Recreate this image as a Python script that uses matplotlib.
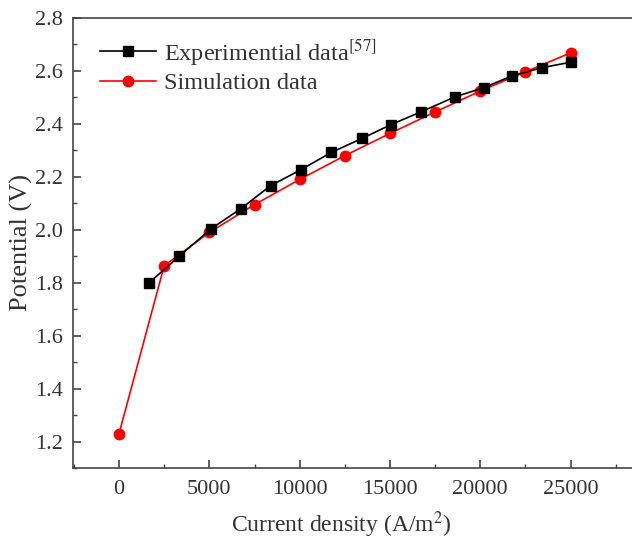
import matplotlib
matplotlib.use("Agg")
import matplotlib.pyplot as plt
from matplotlib.ticker import MultipleLocator

# experimental data [57]
exp_current = [1667, 3333, 5100, 6750, 8400, 10050, 11750, 13450, 15050,
               16700, 18600, 20200, 21750, 23400, 25000]
exp_potential = [1.800, 1.900, 2.004, 2.080, 2.167, 2.226, 2.292, 2.345, 2.397,
                 2.445, 2.502, 2.537, 2.581, 2.612, 2.633]

# simulation data
sim_current = [0, 2500, 5000, 7500, 10000, 12500, 15000, 17500, 20000, 22500, 25000]
sim_potential = [1.230, 1.864, 1.990, 2.095, 2.190, 2.280, 2.364, 2.445, 2.524,
                 2.597, 2.668]

plt.rcParams["font.family"] = ["Liberation Serif", "DejaVu Serif"]
plt.rcParams["mathtext.fontset"] = "stix"

fig = plt.figure(figsize=(6.32, 5.45), dpi=100)
ax = fig.add_axes([73 / 632, 77 / 545, 1 - 73 / 632, 450 / 545])

ax.plot(exp_current, exp_potential, color="black", marker="s", markersize=7,
        linewidth=1.2, label=r"Experimential data$^{[57]}$", zorder=3)
ax.plot(sim_current, sim_potential, color="red", marker="o", markersize=7.5,
        linewidth=1.2, label="Simulation data", zorder=2)

ax.set_xlim(-2550, 28400)
ax.set_ylim(1.1, 2.8)
ax.xaxis.set_major_locator(MultipleLocator(5000))
ax.xaxis.set_minor_locator(MultipleLocator(2500))
ax.yaxis.set_major_locator(MultipleLocator(0.2))
ax.yaxis.set_minor_locator(MultipleLocator(0.1))
ax.yaxis.set_major_formatter(matplotlib.ticker.FormatStrFormatter("%.1f"))

for side in ("left", "bottom", "top"):
    ax.spines[side].set_linewidth(1.2)
    ax.spines[side].set_color("#444444")
ax.spines["right"].set_visible(False)

ax.tick_params(which="both", direction="in", colors="#444444", labelcolor="#333333",
               labelsize=16, top=False, right=False)
ax.tick_params(which="major", length=6, width=1.2)
ax.tick_params(which="minor", length=3, width=1.0)
ax.tick_params(axis="x", pad=9)
ax.tick_params(axis="y", pad=7)

ax.set_xlabel("Current density (A/m$^2$)", fontsize=17, color="#333333", labelpad=7)
ax.xaxis.label.set_x(0.48)
ax.set_ylabel("Potential (V)", fontsize=19, color="#333333", labelpad=2)

leg = ax.legend(loc="upper left", frameon=False, fontsize=17.5, handlelength=2.3,
                handletextpad=0.33, labelspacing=0.2, borderaxespad=0.0,
                bbox_to_anchor=(0.031, 0.98))
for t in leg.get_texts():
    t.set_color("#333333")

plt.savefig("out.png", dpi=100)
plt.close()
